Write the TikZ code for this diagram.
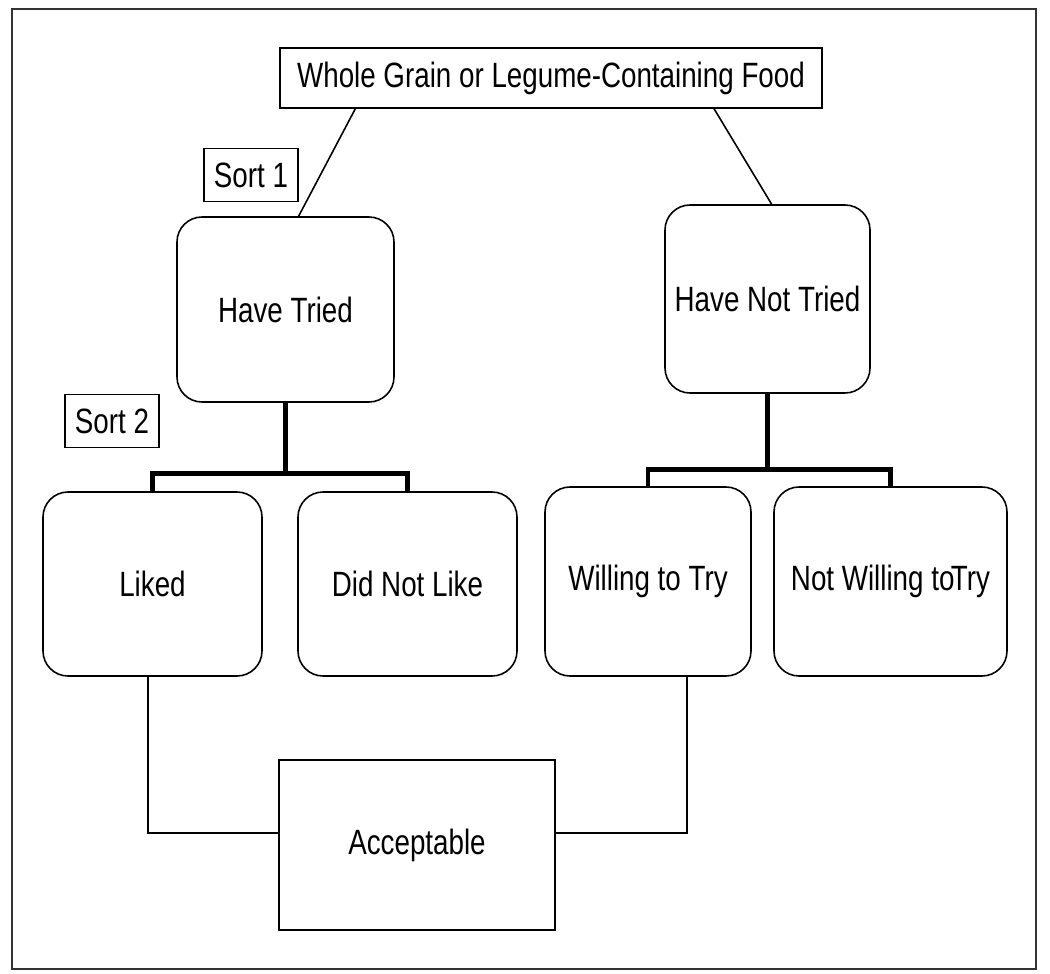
\documentclass[tikz,border=0pt]{standalone}
\usepackage{fontspec}
\setmainfont{Liberation Sans}[FakeStretch=0.79]
\usepackage{tikz}
\usetikzlibrary{positioning,calc}

\begin{document}
\begin{tikzpicture}[
  x=0.2mm, y=-0.2mm,
  every node/.style={font=\fontsize{20}{24}\selectfont},
  plain/.style={draw, line width=0.9pt, rectangle, align=center, inner sep=0pt},
  sortlbl/.style={plain, minimum width=1.87cm, minimum height=1.06cm},
  group/.style={draw, line width=0.9pt, rectangle, rounded corners=0.5cm, align=center, inner sep=0pt, minimum height=3.72cm},
  lnk/.style={line width=0.9pt},
  bar/.style={line width=2.8pt}
]

\useasboundingbox (0,0) rectangle (1050,974);
\draw[line width=1.2pt, black!80] (12,9) rectangle (1036,969);

% top level
\node[plain, minimum width=10.84cm, minimum height=1.2cm] (food) at (551,78) {Whole Grain or Legume-Containing Food};

\node[sortlbl] (sort1) at (251,175) {Sort 1};
\node[sortlbl] (sort2) at (112,421) {Sort 2};

\node[group, minimum width=4.34cm, minimum height=3.7cm] (tried) at (285.5,309.5) {Have Tried};
\node[group, minimum width=4.1cm, minimum height=3.76cm] (nottried) at (767.5,299) {Have Not Tried};

% second level
\node[group, minimum width=4.38cm, minimum height=3.68cm] (liked) at (152.5,584) {Liked};
\node[group, minimum width=4.38cm, minimum height=3.68cm] (disliked) at (407.5,584) {Did Not Like};
\node[group, minimum width=4.12cm, minimum height=3.78cm] (willing) at (648,581.5) {Willing to Try};
\node[group, minimum width=4.66cm, minimum height=3.78cm] (notwilling) at (890.5,581.5) {Not Willing to\hspace{-0.1em}Try};

\node[plain, minimum width=5.52cm, minimum height=3.4cm] (accept) at (417,845) {Acceptable};

% links
\draw[lnk] ($(food.south west)!0.14!(food.south east)$) -- ($(tried.north west)!0.56!(tried.north east)$);
\draw[lnk] ($(food.south west)!0.80!(food.south east)$) -- ($(nottried.north west)!0.52!(nottried.north east)$);

\draw[bar] (tried.south) -- ++(0,71) coordinate (triedfork);
\draw[bar] (liked.north) |- (triedfork) -| (disliked.north);
\draw[bar] (nottried.south) -- ++(0,76) coordinate (notfork);
\draw[bar] (willing.north) |- (notfork) -| (notwilling.north);

\draw[lnk] ([xshift=-0.09cm]liked.south) |- ([yshift=0.24cm]accept.west);
\draw[lnk] ([xshift=0.78cm]willing.south) |- ([yshift=0.24cm]accept.east);

\end{tikzpicture}
\end{document}
